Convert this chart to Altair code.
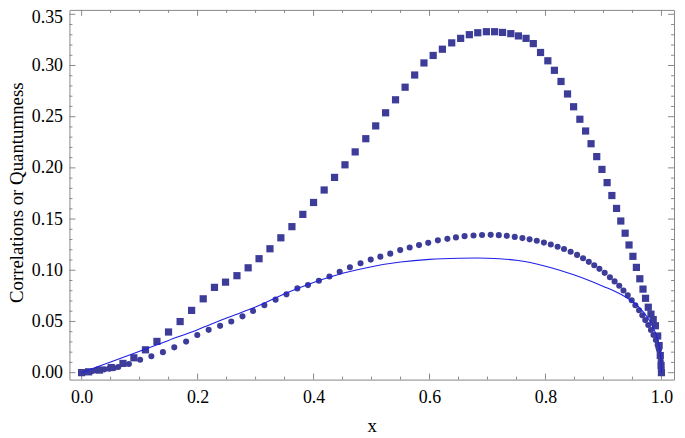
import altair as alt
import pandas as pd

# ---- series ----
sq_x = [0.0, 0.012, 0.031, 0.051, 0.0713, 0.0901, 0.1101, 0.1299, 0.1499, 0.1699,
        0.1897, 0.2097, 0.2291, 0.2482, 0.2679, 0.2872, 0.3060, 0.3248, 0.3436, 0.3627,
        0.3815, 0.4000, 0.4183, 0.4362, 0.4542, 0.4718, 0.4901, 0.5072, 0.5243, 0.5414,
        0.5579, 0.5744, 0.5904, 0.6063, 0.6222, 0.6383, 0.6537, 0.6687, 0.6832, 0.6981,
        0.7123, 0.7260, 0.7402, 0.7533, 0.7665, 0.7790, 0.7915, 0.8041, 0.8154, 0.8268,
        0.8380, 0.8485, 0.8593, 0.8692, 0.8786, 0.8884, 0.8974, 0.9063, 0.9145, 0.9226,
        0.9299, 0.9374, 0.9441, 0.9508, 0.9568, 0.9627, 0.9682, 0.9726, 0.9773, 0.9819,
        0.9858, 0.9896, 0.9935, 0.9960, 0.9980, 0.9993, 1.0]
sq_y = [0.0, 0.0008, 0.0025, 0.0050, 0.0090, 0.0145, 0.0223, 0.0305, 0.0397, 0.0499,
        0.0608, 0.0721, 0.0833, 0.0884, 0.0947, 0.1024, 0.1113, 0.1210, 0.1317, 0.1426,
        0.1546, 0.1662, 0.1784, 0.1907, 0.2030, 0.2156, 0.2285, 0.2410, 0.2538, 0.2665,
        0.2788, 0.2907, 0.3025, 0.3098, 0.3159, 0.3221, 0.3265, 0.3301, 0.3320, 0.3330,
        0.3330, 0.3323, 0.3311, 0.3289, 0.3265, 0.3214, 0.3127, 0.3046, 0.2953, 0.2844,
        0.2722, 0.2597, 0.2475, 0.2360, 0.2236, 0.2110, 0.1985, 0.1856, 0.1730, 0.1604,
        0.1481, 0.1362, 0.1247, 0.1136, 0.1028, 0.0917, 0.0816, 0.0726, 0.0639, 0.0571,
        0.0518, 0.0458, 0.0358, 0.0264, 0.0167, 0.0071, 0.0]

ci_x = [0.0, 0.0085, 0.0178, 0.0246, 0.0315, 0.0393, 0.0474, 0.0559, 0.0632, 0.0815,
        0.1009, 0.1203, 0.1402, 0.1598, 0.1802, 0.1995, 0.2191, 0.2388, 0.2581, 0.2774,
        0.2957, 0.3152, 0.3345, 0.3533, 0.3721, 0.3904, 0.4092, 0.4274, 0.4451, 0.4627,
        0.4810, 0.4986, 0.5152, 0.5323, 0.5494, 0.5658, 0.5819, 0.5978, 0.6144, 0.6308,
        0.6456, 0.6605, 0.6759, 0.6906, 0.7055, 0.7195, 0.7333, 0.7470, 0.7602, 0.7726,
        0.7850, 0.7973, 0.8092, 0.8209, 0.8320, 0.8434, 0.8545, 0.8648, 0.8747, 0.8841,
        0.8930, 0.9021, 0.9111, 0.9192, 0.9272, 0.9345, 0.9419, 0.9487, 0.9550, 0.9614,
        0.9670, 0.9721, 0.9773, 0.9819, 0.9863, 0.9904, 0.9935, 0.9958, 0.9975, 0.9988,
        0.9996, 1.0]
ci_y = [0.0, 0.0007, 0.0013, 0.0022, 0.0029, 0.0032, 0.0039, 0.0045, 0.0055, 0.0084,
        0.0126, 0.0160, 0.0200, 0.0247, 0.0303, 0.0368, 0.0418, 0.0457, 0.0499, 0.0550,
        0.0603, 0.0658, 0.0713, 0.0765, 0.0823, 0.0855, 0.0897, 0.0939, 0.0985, 0.1029,
        0.1068, 0.1104, 0.1133, 0.1162, 0.1197, 0.1223, 0.1246, 0.1268, 0.1292, 0.1307,
        0.1321, 0.1333, 0.1340, 0.1345, 0.1346, 0.1343, 0.1336, 0.1326, 0.1314, 0.1302,
        0.1288, 0.1270, 0.1252, 0.1229, 0.1207, 0.1181, 0.1150, 0.1118, 0.1082, 0.1049,
        0.1014, 0.0975, 0.0932, 0.0891, 0.0849, 0.0803, 0.0755, 0.0707, 0.0658, 0.0610,
        0.0561, 0.0513, 0.0465, 0.0416, 0.0368, 0.0319, 0.0271, 0.0223, 0.0167, 0.0113,
        0.0055, 0.0]

ln_x = [0.0, 0.05, 0.1, 0.15, 0.2, 0.25, 0.3, 0.35, 0.4, 0.45, 0.5, 0.55, 0.6, 0.65,
        0.7, 0.75, 0.8, 0.85, 0.9, 0.93, 0.96, 0.98, 0.99, 0.995, 0.999, 1.0]
ln_y = [0.0, 0.0105, 0.0210, 0.0315, 0.0420, 0.0533, 0.0640, 0.0770, 0.0880, 0.0970,
        0.1035, 0.1080, 0.1106, 0.1117, 0.1118, 0.1097, 0.1040, 0.0953, 0.0842, 0.0765,
        0.0648, 0.0505, 0.0385, 0.0290, 0.0140, 0.0]

# ---- tick values ----
x_major = [0.0, 0.2, 0.4, 0.6, 0.8, 1.0]
x_minor = [0.05, 0.1, 0.15, 0.25, 0.3, 0.35, 0.45, 0.5, 0.55, 0.65, 0.7, 0.75,
           0.85, 0.9, 0.95]
y_major = [0.0, 0.05, 0.1, 0.15, 0.2, 0.25, 0.3, 0.35]
y_minor = [0.01, 0.02, 0.03, 0.04, 0.06, 0.07, 0.08, 0.09, 0.11, 0.12, 0.13, 0.14,
           0.16, 0.17, 0.18, 0.19, 0.21, 0.22, 0.23, 0.24, 0.26, 0.27, 0.28, 0.29,
           0.31, 0.32, 0.33, 0.34]

W, H = 610, 373
FONT = "Liberation Serif, Times New Roman, serif"
MARK = "#3d3d99"
FRAME = "#888888"

xs = alt.Scale(domain=[-0.021, 1.0217], nice=False, zero=False)
ys = alt.Scale(domain=[-0.00678, 0.3543], nice=False, zero=False)

x_axis = alt.Axis(values=x_major, format=".1f", ticks=False, tickSize=0, domain=False,
                  grid=False, labelFont=FONT, labelFontSize=18, labelColor="black",
                  labelPadding=9, titleFont=FONT, titleFontSize=19, titleFontWeight="normal",
                  titleColor="black", titleBaseline="alphabetic", titleY=52)
y_axis = alt.Axis(values=y_major, format=".2f", ticks=False, tickSize=0, domain=False,
                  grid=False, labelFont=FONT, labelFontSize=18, labelColor="black",
                  labelPadding=7,
                  labelOffset={"condition": {"test": "datum.value > 0.34", "value": 3},
                               "value": 0},
                  titleFont=FONT, titleFontSize=19, titleFontWeight="normal",
                  titleColor="black", titleAngle=270, titleBaseline="alphabetic",
                  titleX=-47, titleY=184)

XT = "x"
YT = "Correlations or Quantumness"

sq_df = pd.DataFrame({"x": sq_x, "y": sq_y})
ci_df = pd.DataFrame({"x": ci_x, "y": ci_y})
ln_df = pd.DataFrame({"x": ln_x, "y": ln_y})

squares = alt.Chart(sq_df).mark_square(size=53, color=MARK, opacity=1).encode(
    x=alt.X("x:Q", scale=xs, axis=x_axis, title=XT),
    y=alt.Y("y:Q", scale=ys, axis=y_axis, title=YT),
)
circles = alt.Chart(ci_df).mark_circle(size=38, color=MARK, opacity=1).encode(
    x=alt.X("x:Q", scale=xs, axis=x_axis, title=XT),
    y=alt.Y("y:Q", scale=ys, axis=y_axis, title=YT),
)
line = alt.Chart(ln_df).mark_line(color="#1f1fe6", strokeWidth=1.1,
                                  interpolate="catmull-rom").encode(
    x=alt.X("x:Q", scale=xs, axis=x_axis, title=XT),
    y=alt.Y("y:Q", scale=ys, axis=y_axis, title=YT),
)


def xticks(vals, length):
    df = pd.DataFrame({"x": vals})
    bottom = alt.Chart(df).mark_rule(color=FRAME, strokeWidth=1).encode(
        x=alt.X("x:Q", scale=xs, axis=x_axis, title=XT),
        y=alt.value(H), y2=alt.value(H - length))
    top = alt.Chart(df).mark_rule(color=FRAME, strokeWidth=1).encode(
        x=alt.X("x:Q", scale=xs, axis=x_axis, title=XT),
        y=alt.value(0), y2=alt.value(length))
    return [bottom, top]


def yticks(vals, length):
    df = pd.DataFrame({"y": vals})
    left = alt.Chart(df).mark_rule(color=FRAME, strokeWidth=1).encode(
        y=alt.Y("y:Q", scale=ys, axis=y_axis, title=YT),
        x=alt.value(0), x2=alt.value(length))
    right = alt.Chart(df).mark_rule(color=FRAME, strokeWidth=1).encode(
        y=alt.Y("y:Q", scale=ys, axis=y_axis, title=YT),
        x=alt.value(W), x2=alt.value(W - length))
    return [left, right]


layers = (xticks(x_major, 6) + xticks(x_minor, 3) + yticks(y_major, 6)
          + yticks(y_minor, 3) + [squares, circles, line])

chart = alt.layer(*layers).properties(
    width=W, height=H,
    padding={"left": 62, "top": 0, "right": 3, "bottom": 55},
    autosize=alt.AutoSizeParams(type="none"),
    background="white",
).configure_view(stroke=FRAME, strokeWidth=1)

chart.save("out.html", embed_options={"renderer": "svg", "actions": False})
